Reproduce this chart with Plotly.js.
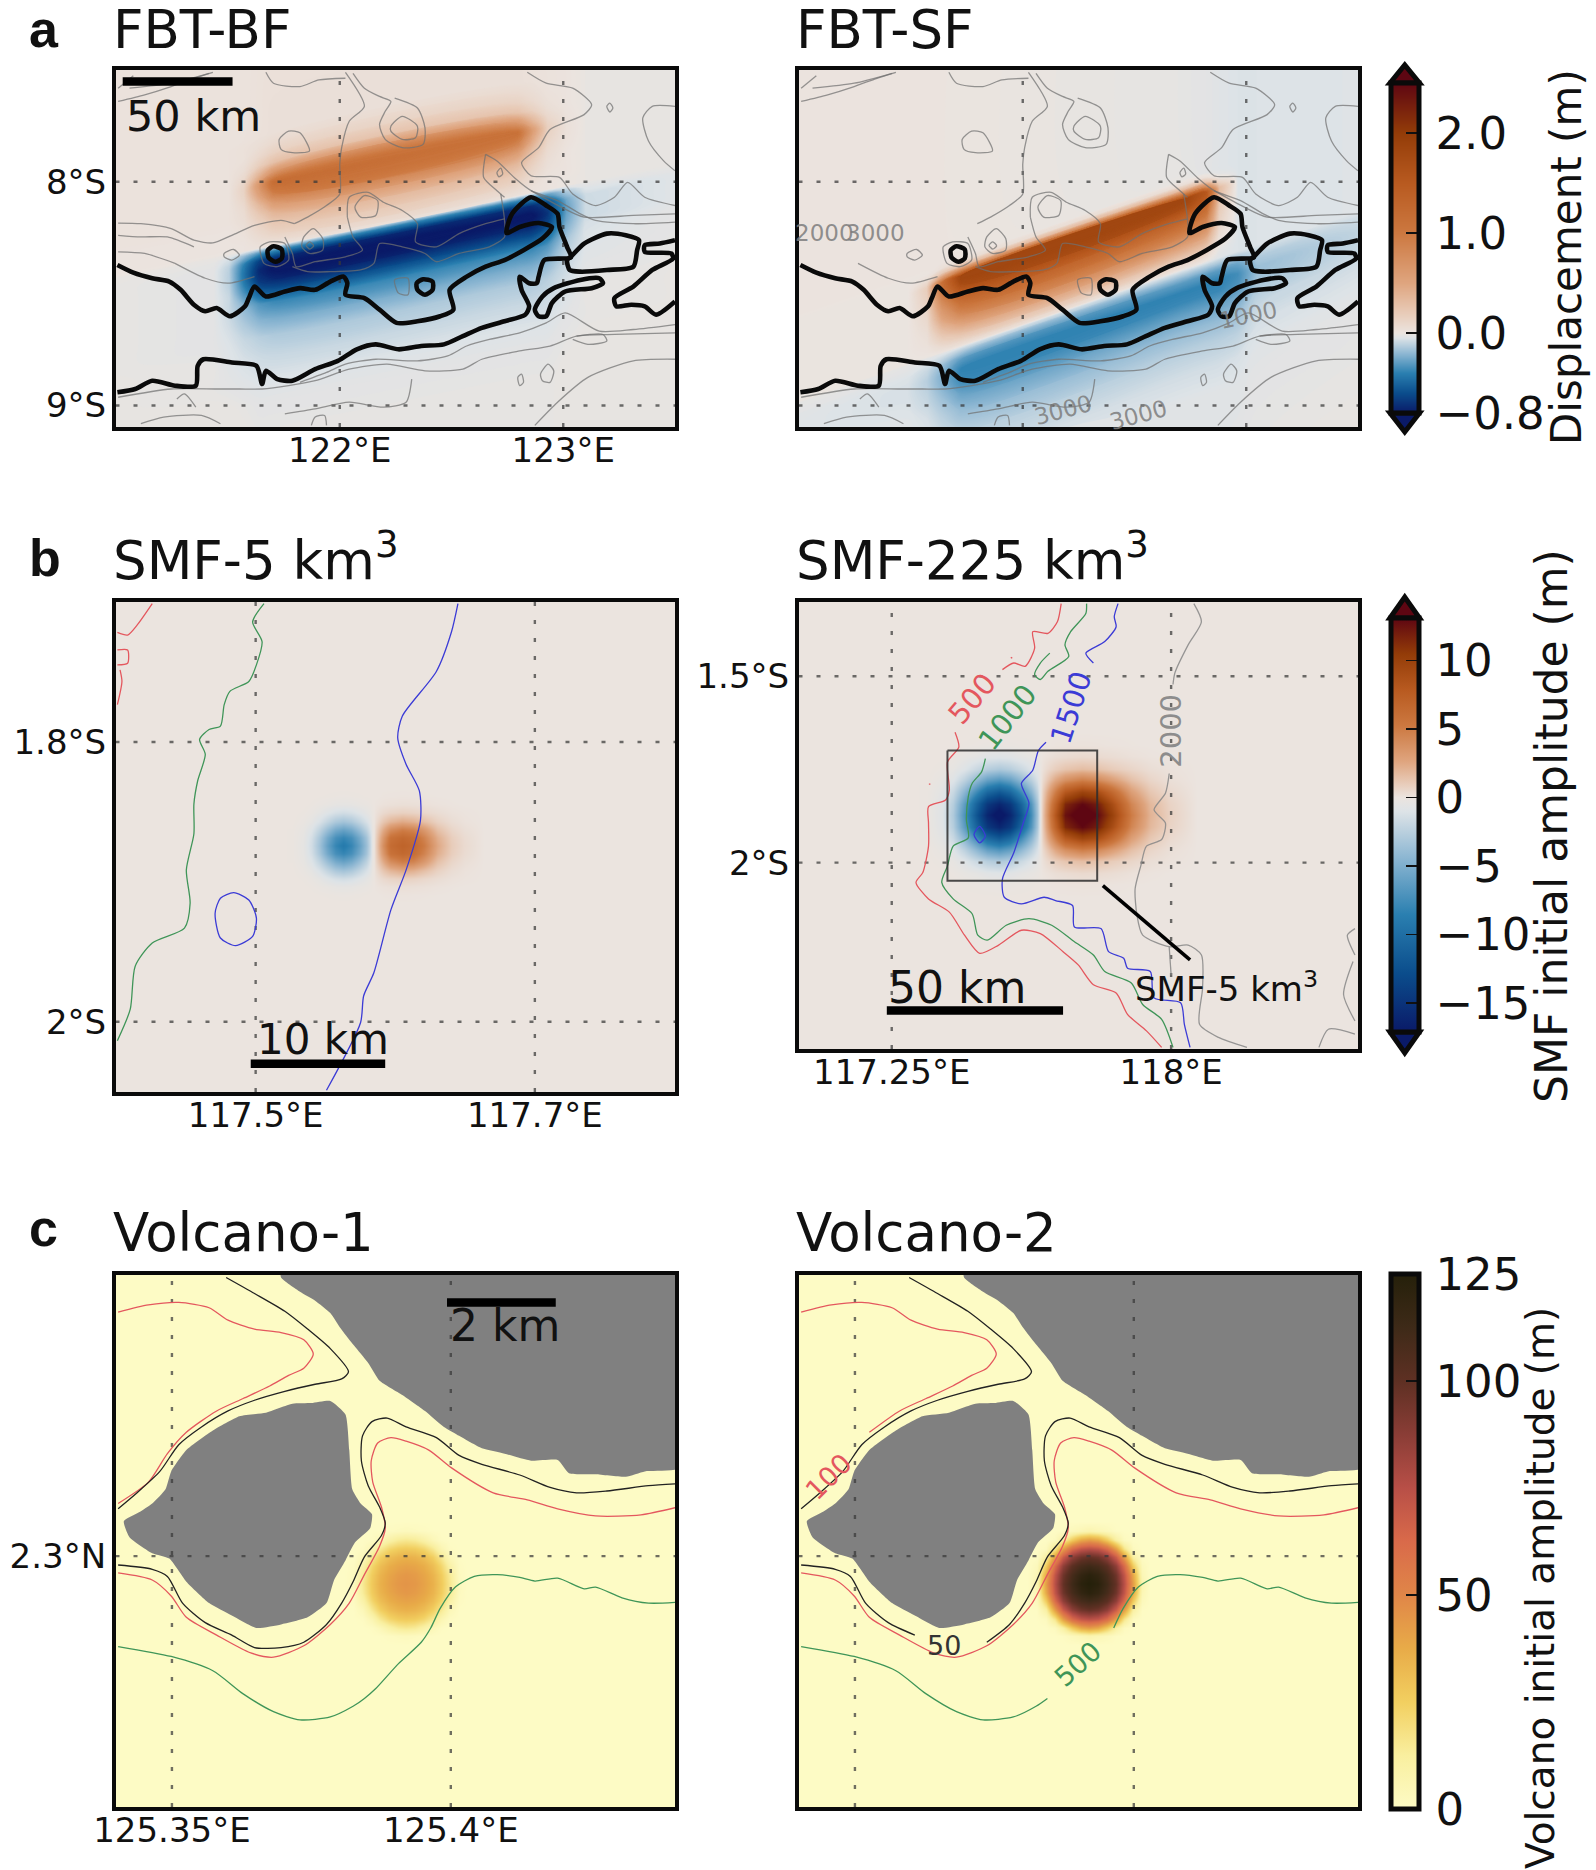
<!DOCTYPE html>
<html><head><meta charset="utf-8">
<script src="https://cdn.plot.ly/plotly-3.0.1.min.js"></script>
<style>html,body{margin:0;padding:0;background:#fff}</style></head>
<body><div id="chart" style="width:1596px;height:1870px"></div>
<script>
// ---------- digitised contours (units: digitising grid, converted to lon/lat by the calibrations below) ----------
const coastMain=[[38,645],[80,668],[130,685],[175,695],[205,720],[240,765],[270,785],[300,775],[335,800],[375,770],[385,745],[400,710],[430,740],[480,725],[520,715],[560,720],[600,695],[635,680],[645,700],[640,735],[690,745],[730,780],[775,820],[830,815],[890,800],[925,780],[915,720],[960,680],[1010,650],[1060,630],[1110,600],[1160,565],[1185,530],[1150,518],[1100,530],[1065,548],[1080,490],[1130,440],[1170,465],[1200,490],[1205,530],[1225,590],[1235,622],[1165,630],[1150,680],[1145,700],[1125,700],[1100,680],[1105,720],[1125,770],[1115,795],[1060,815],[1000,835],[950,860],[900,885],[840,890],[780,900],[720,885],[670,900],[620,935],[560,960],[500,995],[460,990],[430,965],[420,1005],[405,950],[340,940],[265,930],[250,950],[245,1010],[190,1010],[130,995],[85,1020],[38,1030]];
const coastIsleA=[[1235,620],[1270,580],[1330,550],[1380,555],[1415,570],[1410,600],[1400,650],[1330,660],[1260,665],[1232,660],[1225,630],[1235,620]];
const coastIsleB=[[1150,800],[1140,780],[1160,740],[1190,715],[1260,690],[1310,685],[1320,700],[1290,715],[1220,725],[1185,760],[1170,800],[1150,800]];
const coastEast=[[1510,570],[1470,580],[1430,585],[1430,605],[1500,610],[1505,625],[1450,660],[1400,710],[1350,745],[1355,770],[1395,765],[1430,770],[1460,795],[1510,755]];
const coastIsletC=[[435,600],[450,588],[472,598],[472,625],[455,635],[437,622],[435,600]];
const coastIsletD=[[828,700],[845,688],[870,695],[870,720],[850,735],[830,720],[828,700]];
const coastLines=[coastMain,coastIsleA,coastIsleB,coastEast,coastIsletC,coastIsletD];

const greyCommon=[
 [[40,150],[110,130],[180,105],[240,80],[290,62]],
 [[40,110],[80,72]],
 [[70,110],[180,95],[280,65]],
 [[430,62],[450,95],[520,105],[570,85],[640,80]],
 [[660,65],[690,110],[730,135],[760,150],[745,180],[730,220],[745,265],[790,290],[845,280],[850,230],[830,170],[770,140]],
 [[760,225],[790,195],[830,225],[825,260],[790,265],[760,240],[760,225]],
 [[465,265],[490,240],[520,245],[545,300],[500,305],[470,295],[465,265]],
 [[665,470],[690,435],[725,450],[720,495],[680,500],[665,470]],
 [[645,500],[650,440],[700,425],[740,455],[790,480],[830,520],[825,575],[880,590],[940,550],[1010,520],[1060,505]],
 [[645,500],[660,560],[685,600],[640,620],[560,635],[510,650],[500,610],[480,560]],
 [[500,650],[540,665],[600,665],[680,660],[715,640],[730,580],[790,590],[850,610],[880,635],[940,610],[1020,590],[1060,560],[1060,510],[1050,430]],
 [[1010,310],[1005,380],[1040,420],[1060,440]],
 [[1010,310],[1040,330],[1090,385],[1130,420],[1200,450],[1260,490],[1300,510],[1400,520],[1510,515]],
 [[1120,62],[1170,95],[1240,110],[1290,160],[1270,190],[1180,235],[1150,290],[1105,335],[1130,375],[1205,380],[1240,430],[1300,465],[1350,440],[1385,395],[1430,440],[1510,465]],
 [[1130,420],[1210,470],[1270,500],[1400,495],[1510,490]],
 [[1510,165],[1450,165],[1425,200],[1440,270],[1480,330],[1510,360]],
 [[1330,165],[1338,155],[1346,170],[1338,182],[1330,165]],
 [[1040,365],[1050,352],[1055,370],[1045,378],[1040,365]],
 [[1510,825],[1400,840],[1310,845],[1220,790],[1170,820],[1100,850],[1020,870],[960,890],[910,920],[830,935],[720,930],[640,945],[590,970],[520,1000]],
 [[1510,850],[1350,855],[1250,860],[1180,890],[1100,905],[1000,930],[950,960],[850,965],[750,945],[650,960],[560,995],[490,1010],[420,1020],[360,1020],[300,1020],[180,1020],[40,1045]],
 [[1510,930],[1400,935],[1280,985],[1200,1060],[1140,1130]],
 [[815,990],[800,1060],[740,1075],[650,1060],[560,1080],[480,1095]],
 [[1155,975],[1175,945],[1190,965],[1180,1000],[1160,995],[1155,975]],
 [[1095,985],[1105,975],[1110,1000],[1100,1010],[1095,985]],
 [[1250,860],[1320,855],[1330,875],[1280,885],[1240,870]],
 [[195,1050],[215,1035],[245,1075]],
 [[100,1125],[160,1105],[260,1100],[310,1125]],
 [[550,1130],[560,1105],[585,1100],[590,1130]],
 [[415,590],[440,575],[480,580],[490,630],[460,650],[425,640],[415,590]],
 [[530,560],[555,535],[580,565],[580,600],[545,610],[525,590],[530,560]],
 [[536,585],[546,575],[556,587],[546,597],[536,585]],
 [[320,610],[345,598],[360,615],[340,630],[320,620],[320,610]],
 [[770,690],[805,685],[805,735],[780,730],[770,690]]
];
const greyRidge=[[640,62],[690,165],[650,210],[630,290],[625,340],[625,430],[590,465],[540,500],[505,520]];
const greyRidgeWest=[[505,520],[470,510],[400,525],[340,555],[290,578],[240,570],[180,535],[100,520],[40,518]];
const greyWestA=[[40,555],[100,560],[170,560],[240,590]];
const greyWestB=[[40,605],[110,610],[190,640]];
const greyWestC=[[190,640],[270,685],[330,700],[400,680]];

const smf5Red=[[[130,35],[90,100],[65,130],[38,122]],[[38,175],[65,175],[65,215],[38,220]],[[45,235],[50,270],[38,340]]];
const smf5Green=[[425,35],[395,90],[420,150],[405,220],[385,270],[335,300],[320,340],[310,405],[280,415],[255,445],[270,490],[250,570],[240,640],[240,730],[220,840],[230,940],[215,1015],[130,1060],[85,1130],[72,1260],[38,1355]];
const smf5Blue=[[[937,35],[920,120],[880,240],[790,375],[778,440],[800,520],[835,600],[838,690],[800,840],[760,960],[715,1150],[688,1220],[680,1300],[590,1505]],[[296,970],[310,925],[345,908],[385,930],[405,985],[395,1040],[350,1068],[310,1045],[296,970]]];

const smf225Red=[[[735,35],[725,90],[700,125],[660,120],[665,170],[640,225],[610,215],[580,235]],[[455,425],[465,470],[435,515],[440,600],[430,630],[385,650],[385,700],[385,770],[370,850],[352,880],[385,930],[440,970],[480,1040],[520,1095],[570,1070],[630,1025],[680,1035],[740,1090],[780,1130],[820,1190],[880,1215],[910,1280],[960,1330],[1000,1380]],[[386,582],[390,582]],[[602,198],[606,200]]];
const smf225Green=[[[802,35],[800,65],[760,120],[745,160],[755,195],[700,240],[680,265],[665,250],[680,215],[705,185]],[[535,505],[525,545],[500,580],[490,620],[485,690],[490,745],[450,770],[435,830],[420,880],[450,930],[500,975],[515,1040],[540,1055],[590,1010],[650,990],[710,1010],[770,1060],[820,1100],[850,1150],[920,1185],[950,1250],[1000,1295],[1030,1380]]];
const smf225Blue=[[[885,35],[875,75],[880,105],[850,150],[800,185],[820,215]],[[695,455],[675,480],[660,540],[630,580],[650,640],[635,700],[610,790],[580,870],[585,925],[630,945],[690,925],[720,935],[765,950],[770,1015],[840,1020],[860,1090],[900,1110],[910,1140],[970,1150],[980,1230],[1050,1245],[1060,1310],[1075,1380]],[[505,735],[520,710],[535,740],[520,760],[505,735]]];
const smf225Grey=[[[1085,35],[1105,90],[1070,160],[1035,245],[1030,280]],[[1020,550],[1010,610],[980,660],[1010,700],[1000,750],[960,770],[945,830],[930,900],[935,980],[950,1040],[1020,1075],[1070,1070],[1105,1100],[1108,1200],[1100,1310],[1150,1350],[1225,1380]],[[1020,1075],[1025,1160]],[[1510,1020],[1490,1040],[1510,1100]],[[1505,1120],[1480,1220],[1510,1300]],[[1415,1380],[1440,1325],[1510,1340]]];

const landNorth=[[470,20],[470,45],[520,85],[560,110],[600,145],[625,185],[650,220],[700,285],[730,335],[790,375],[850,420],[900,465],[940,490],[1000,525],[1060,540],[1130,560],[1200,558],[1230,595],[1300,598],[1380,605],[1430,590],[1530,578],[1530,20],[470,20]];
const landIsland=[[55,730],[95,705],[130,680],[165,640],[180,590],[220,530],[290,475],[360,435],[430,425],[500,400],[550,398],[600,392],[640,430],[650,530],[658,640],[680,680],[710,710],[705,750],[665,790],[640,840],[610,895],[590,960],[540,1000],[470,1020],[405,1030],[340,995],[280,960],[220,900],[175,835],[130,820],[70,775],[55,730]];
const depth50A=[[325,45],[400,90],[480,140],[540,190],[600,245],[648,310],[630,330],[560,345],[480,365],[400,390],[330,420],[260,465],[200,515],[150,590],[90,650],[40,695]];
const depth50B=[[1510,625],[1440,630],[1330,645],[1250,650],[1180,635],[1100,600],[1000,570],[940,545],[880,495],[800,465],[750,440],[710,450],[685,490],[682,560],[700,630],[730,690],[745,735],[735,770],[690,830],[660,900],[630,960],[590,1020],[530,1070],[470,1085],[400,1085],[340,1050],[270,1015],[210,960],[170,885],[130,865],[40,853]];
const depth100A=[[40,142],[120,122],[200,115],[280,130],[330,165],[400,190],[470,200],[530,220],[555,260],[530,300],[490,320],[440,350],[370,385],[300,420],[220,480],[170,540],[120,620],[40,680]];
const depth100B=[[1510,692],[1420,712],[1300,715],[1200,695],[1120,670],[1030,650],[920,580],[860,530],[800,505],[760,495],[725,510],[708,560],[712,620],[735,690],[745,750],[730,800],[690,880],[650,960],[600,1020],[530,1080],[450,1112],[390,1100],[300,1050],[220,1000],[180,940],[130,895],[40,875]];
const depth500=[[1510,958],[1440,960],[1370,945],[1300,915],[1270,920],[1200,890],[1140,898],[1100,888],[1040,880],[980,885],[930,915],[890,975],[865,1030],[840,1070],[780,1130],[720,1200],[690,1228],[660,1250],[600,1280],[520,1288],[450,1265],[370,1215],[290,1150],[180,1110],[40,1082]];

// ---------- calibrations digitising grid -> lon/lat ----------
const calA={lon:122,x:625,kx:590,lat:-8,y:393,ky:677};
const calAfield={lon:122,x:632,kx:590,lat:-8,y:393,ky:677};
const calB1={lon:117.5,x:403,kx:3685,lat:-1.8,y:453,ky:4225};
const calB2={lon:117.25,x:288,kx:982.7,lat:-1.5,y:255,ky:1130};
const calC={lon:125.35,x:182,kx:14720,lat:2.3,y:828,ky:15775};

// ---------- FBT fields, read across and along strike ----------
const bfStrike=[-100,300,340,380,420,460,1100,1140,1180,1230,1280,1700];
const bfAcross=[-800,-340,-310,-280,-250,-220,-190,-160,-130,-100,-70,-40,-15,-2,2,15,40,70,100,130,170,220,270,330,400,470,550,1200];
const bfZ=[
[.02,.02,.02,.02,.02,.02,.01,.01,0,0,-.01,-.01],
[.02,.02,.02,.02,.03,.04,.04,.03,.02,.01,-.01,-.01],
[.02,.02,.02,.03,.05,.08,.08,.05,.02,.01,-.01,-.01],
[.02,.02,.02,.03,.09,.15,.14,.08,.03,.01,-.01,-.01],
[.02,.02,.02,.05,.17,.29,.27,.15,.05,.01,-.01,-.01],
[.02,.02,.02,.09,.38,.68,.64,.34,.10,.02,-.01,-.01],
[.02,.02,.02,.14,.65,1.17,1.1,.58,.16,.03,-.01,-.01],
[.02,.02,.02,.12,.53,.95,.89,.47,.13,.03,-.01,-.01],
[.02,.02,.02,.08,.34,.61,.58,.31,.09,.02,-.01,-.01],
[.02,.02,.02,.06,.21,.38,.36,.19,.06,.01,-.01,-.01],
[.01,.01,.01,.04,.13,.23,.22,.12,.04,.01,-.01,-.01],
[.01,.01,.01,.02,.08,.14,.13,.07,.02,.01,-.01,-.01],
[.01,.01,.01,.01,.04,.06,.06,.03,.01,0,-.01,-.01],
[0,0,0,.01,.02,.03,.03,.02,.01,0,-.01,-.01],
[-.01,-.01,-.01,-.03,-.05,-.05,-.05,-.05,-.05,-.03,-.02,-.01],
[-.01,-.02,-.06,-.19,-.32,-.35,-.35,-.35,-.3,-.13,-.04,-.01],
[-.01,-.03,-.11,-.4,-.65,-.72,-.72,-.72,-.61,-.25,-.08,-.01],
[-.01,-.03,-.12,-.45,-.74,-.82,-.82,-.82,-.7,-.29,-.08,-.01],
[-.01,-.03,-.11,-.41,-.68,-.75,-.75,-.75,-.64,-.26,-.08,-.01],
[-.01,-.03,-.09,-.33,-.54,-.6,-.6,-.6,-.51,-.21,-.06,-.01],
[-.01,-.03,-.09,-.2,-.32,-.37,-.37,-.37,-.32,-.14,-.05,-.01],
[-.01,-.03,-.07,-.14,-.21,-.24,-.24,-.24,-.2,-.1,-.04,-.01],
[-.01,-.03,-.05,-.09,-.12,-.14,-.14,-.14,-.12,-.07,-.03,-.01],
[-.01,-.02,-.04,-.06,-.08,-.09,-.09,-.09,-.08,-.05,-.02,-.01],
[-.01,-.02,-.03,-.04,-.05,-.05,-.05,-.05,-.05,-.03,-.02,-.01],
[-.01,-.01,-.01,-.02,-.03,-.03,-.03,-.03,-.03,-.02,-.01,-.01],
[-.01,-.01,-.01,-.01,-.02,-.02,-.02,-.02,-.02,-.01,-.01,-.01],
[-.01,-.01,-.01,-.01,-.01,-.01,-.01,-.01,-.01,-.01,-.01,-.01]];
const sfStrike=[-100,330,380,420,470,1060,1115,1150,1200,1250,1700];
const sfAcross=[-1200,-300,-270,-255,-240,-225,-210,-190,-160,-130,-100,-70,-40,-15,-2,2,15,40,70,100,140,190,250,320,400,1000];
const sfZ=[
[.01,.01,.01,.01,0,-.02,-.03,-.04,-.05,-.05,-.04],
[.01,.01,.01,.01,0,-.02,-.03,-.04,-.05,-.05,-.04],
[.01,.01,.01,.01,.01,-.01,-.03,-.04,-.05,-.05,-.04],
[0,0,0,.04,.06,.05,.03,-.03,-.05,-.05,-.04],
[0,0,.03,.2,.33,.32,.26,.02,-.05,-.05,-.04],
[0,0,.1,.6,.98,.97,.81,.15,-.05,-.05,-.04],
[0,0,.18,1.1,1.83,1.82,1.53,.32,-.05,-.05,-.04],
[0,0,.17,1.04,1.73,1.72,1.45,.3,-.05,-.05,-.04],
[0,0,.14,.83,1.38,1.37,1.15,.23,-.05,-.05,-.04],
[0,0,.11,.65,1.08,1.07,.9,.17,-.05,-.05,-.04],
[0,0,.08,.5,.83,.82,.69,.12,-.05,-.05,-.04],
[0,0,.05,.32,.53,.52,.43,.06,-.05,-.05,-.04],
[0,0,.03,.17,.28,.27,.22,.01,-.05,-.05,-.04],
[0,0,.01,.06,.1,.09,.06,-.03,-.05,-.05,-.04],
[0,0,0,.01,.02,.01,0,-.04,-.05,-.05,-.04],
[-.02,-.02,-.03,-.03,-.04,-.04,-.04,-.05,-.05,-.05,-.04],
[-.02,-.03,-.05,-.08,-.13,-.13,-.13,-.13,-.12,-.08,-.04],
[-.03,-.05,-.09,-.18,-.3,-.3,-.3,-.3,-.27,-.14,-.05],
[-.03,-.06,-.12,-.23,-.39,-.39,-.39,-.39,-.35,-.18,-.05],
[-.03,-.06,-.11,-.22,-.37,-.37,-.37,-.37,-.33,-.17,-.05],
[-.03,-.05,-.09,-.17,-.28,-.28,-.28,-.28,-.25,-.13,-.05],
[-.03,-.04,-.06,-.12,-.19,-.19,-.19,-.19,-.17,-.09,-.04],
[-.03,-.03,-.05,-.08,-.12,-.12,-.12,-.12,-.11,-.06,-.03],
[-.03,-.03,-.04,-.05,-.07,-.07,-.07,-.07,-.06,-.04,-.02],
[-.03,-.03,-.03,-.04,-.04,-.04,-.04,-.04,-.04,-.03,-.02],
[-.04,-.04,-.04,-.04,-.03,-.03,-.02,-.02,-.01,0,.01]];
const bfFront={x:395,y:600,slope:-0.233};
const sfFront={x:470,y:890,slope:-0.395};

// ---------- SMF dipole, metres, half table by distance from the trough axis ----------
const smfDx=[-190,-150,-120,-90,-60,-30,0,30,60,85,100,108,113,118,125,150,175,220,260,300,350,400,450,520];
const smfDy=[0,35,70,105,140,175,210,250];
const smfZ=[
[-.1,-.9,-3,-7,-12,-16,-18,-16,-12,-7.5,-3.5,-.6,.3,1.5,3,8,12.5,14,13,10,5,2,.8,0],
[-.1,-.8,-2.7,-6.3,-10.8,-14.5,-16,-14.5,-10.8,-6.8,-3.2,-.5,.3,1.3,2.7,7,11.5,13,12,9,4.4,1.8,.7,0],
[-.08,-.6,-1.9,-4.4,-7.6,-10.5,-11.8,-10.5,-7.6,-4.6,-2.2,-.4,.2,1,2,4.9,8,9.8,9,6.5,3,1.2,.45,0],
[0,-.3,-.9,-2.3,-4.2,-6,-6.8,-6,-4.2,-2.5,-1.2,-.2,.1,.5,1,2.5,3.8,4.8,4.2,3,1.5,.6,.2,0],
[0,-.1,-.35,-.9,-1.8,-2.6,-3,-2.6,-1.8,-1,-.5,-.1,.05,.2,.4,.9,1.3,1.6,1.4,1,.6,.25,.1,0],
[0,0,-.1,-.3,-.5,-.8,-.9,-.8,-.5,-.3,-.15,0,0,.05,.1,.25,.35,.45,.4,.3,.15,.05,0,0],
[0,0,0,-.05,-.1,-.15,-.2,-.15,-.1,-.05,-.02,0,0,0,0,.05,.07,.1,.08,.05,.02,0,0,0],
[0,0,0,0,0,0,0,0,0,0,0,0,0,0,0,0,0,0,0,0,0,0,0,0]];
const smfSmall={lon:117.563,lat:-1.874,shrink:5.3,amp:0.5};
const smfLarge={lon:117.537,lat:-1.872,shrink:1,amp:1};

// ---------- volcano dome, metres, one quadrant ----------
const volR=[0,23,46,69,92,115,138,161];
const volZ=[
[125,122,112,98,75,42,7,0],
[122,118,109,95,72,38,5,0],
[112,109,101,86,62,26,3,0],
[98,95,86,68,42,11,.5,0],
[75,72,62,42,17,2,0,0],
[42,38,26,11,2,0,0,0],
[7,5,3,.5,0,0,0,0],
[0,0,0,0,0,0,0,0]];
const vol1Amp=0.36, vol2Amp=1, volLon=125.392, volLat=2.29512;

// ---------- colours and ticks ----------
const bwrNeg=[[-1,'#0a1a68'],[-.75,'#0b4d8c'],[-.5,'#2a7fb0'],[-.25,'#8fb8d3'],[-.06,'#dde3e7'],[0,'#ebe4df']];
const bwrPos=[[.08,'#e8cbb8'],[.2,'#dfa57f'],[.4,'#cc7840'],[.6,'#b85a20'],[.8,'#933c08'],[1,'#5e0612']];
const volColors=[[0,'#fdfbc5'],[.1,'#f9ef9f'],[.2,'#f2cf60'],[.3,'#e8ab48'],[.4,'#e08648'],[.5,'#d96a4a'],[.6,'#b84f47'],[.7,'#8a3d36'],[.8,'#5e3023'],[.9,'#3e2a18'],[1,'#25200a']];
const dispRange=[-.8,2.5], smfRange=[-17.1,13.1], volRange=[0,125];
const dispTicks=[-.8,0,1,2], dispLabels=['\u200a\u22120.8','\u200a0.0','\u200a1.0','\u200a2.0'];
const smfTicks=[-15,-10,-5,0,5,10], smfLabels=['\u200a\u221215','\u200a\u221210','\u200a\u22125','\u200a0','\u200a5','\u200a10'];
const volTicks=[0,50,100,125], volLabels=['\u200a0','\u200a50','\u200a100','\u200a125'];

// ---------- helpers ----------
const W=1596,H=1870,FONT='DejaVu Sans, Verdana, sans-serif';
const ZERO='#ebe4df', GRID='rgba(55,55,55,0.72)', GREY='rgba(112,112,112,0.72)', RED='#e4575e', GREEN='#3f9558', BLUE='#3b3bd6';
const lon=(c,v)=>c.lon+(v-c.x)/c.kx, lat=(c,v)=>c.lat-(v-c.y)/c.ky;
function scale(range){const lo=range[0],hi=range[1],t=v=>(v-lo)/(hi-lo),o=[];
  bwrNeg.forEach(p=>o.push([t(p[0]*-lo),p[1]]));bwrPos.forEach(p=>o.push([t(p[0]*hi),p[1]]));return o;}
const traces=[],annotations=[],shapes=[];
function polyline(sp,cal,pts,color,width,smooth){
  traces.push({type:'scatter',mode:'lines',xaxis:'x'+sp,yaxis:'y'+sp,hoverinfo:'skip',showlegend:false,
    x:pts.map(p=>p[0]===null?null:lon(cal,p[0])),y:pts.map(p=>p[1]===null?null:lat(cal,p[1])),
    line:{color:color,width:width,shape:smooth===false?'linear':'spline',smoothing:.7}});}
function gridLines(sp,xv,yv,xr,yr){
  xv.forEach(v=>traces.push({type:'scatter',mode:'lines',xaxis:'x'+sp,yaxis:'y'+sp,hoverinfo:'skip',showlegend:false,x:[v,v],y:yr,line:{color:GRID,width:2.4,dash:'4px,14px'}}));
  yv.forEach(v=>traces.push({type:'scatter',mode:'lines',xaxis:'x'+sp,yaxis:'y'+sp,hoverinfo:'skip',showlegend:false,x:xr,y:[v,v],line:{color:GRID,width:2.4,dash:'4px,14px'}}));}
function label(sp,cal,txt,zx,zy,size,color,rot){annotations.push({xref:'x'+sp,yref:'y'+sp,x:lon(cal,zx),y:lat(cal,zy),text:txt,showarrow:false,
  font:{family:FONT,size:size,color:color},textangle:rot||0,xanchor:'center',yanchor:'middle'});}
function paperText(px,py,txt,size,opt){annotations.push(Object.assign({xref:'paper',yref:'paper',x:px/W,y:1-py/H,text:txt,showarrow:false,
  font:{family:FONT,size:size,color:'#111'},xanchor:'left',yanchor:'middle'},opt||{}));}
function gapped(pts,i,j){return pts.slice(0,i).concat([[null,null]],pts.slice(j+1));}
function mirrorRows(t){return t.slice(1).reverse().concat(t);}
function mirrorCols(r){return r.slice(1).reverse().concat(r);}
function colorbar(x0,top,bottom,ticks,labels){return {x:x0/W,xanchor:'left',xpad:0,y:1-bottom/H,yanchor:'bottom',ypad:0,yref:'paper',xref:'paper',
  thickness:28,thicknessmode:'pixels',len:(bottom-top)/H,lenmode:'fraction',outlinewidth:5,outlinecolor:'#0a0a0a',borderwidth:0,
  tickmode:'array',tickvals:ticks,ticktext:labels,ticks:'inside',ticklen:15,tickwidth:1.6,tickcolor:'#111',
  tickfont:{family:FONT,size:45,color:'#111'}};}
function arrow(x0,x1,sh,tip,color){const px=v=>(v/W).toFixed(5),py=v=>(1-v/H).toFixed(5),m=(x0+x1)/2;
  shapes.push({type:'path',xref:'paper',yref:'paper',path:`M ${px(x0)} ${py(sh)} L ${px(m)} ${py(tip)} L ${px(x1)} ${py(sh)} Z`,fillcolor:color,line:{color:'#0a0a0a',width:5}});}

// ---------- axes ----------
const layout={width:W,height:H,paper_bgcolor:'#fff',plot_bgcolor:ZERO,showlegend:false,hovermode:false,
  margin:{l:0,r:0,t:0,b:0,pad:0,autoexpand:false},annotations:annotations,shapes:shapes};
function axes(sp,box,xr,yr,xv,xl,yv,yl,bg){
  const common={showgrid:false,zeroline:false,showline:true,mirror:true,linewidth:3.6,linecolor:'#0a0a0a',ticks:'',automargin:false,
    tickfont:{family:FONT,size:34,color:'#111'},tickmode:'array',layer:'above traces'};
  layout['xaxis'+sp]=Object.assign({},common,{anchor:'y'+sp,domain:[box[0]/W,box[1]/W],range:xr,tickvals:xv,ticktext:xl,showticklabels:xl.length>0,ticklabelstandoff:-9});
  layout['yaxis'+sp]=Object.assign({},common,{anchor:'x'+sp,domain:[1-box[3]/H,1-box[2]/H],range:yr,tickvals:yv,ticktext:yl,showticklabels:yl.length>0,ticklabelstandoff:-1});
  if(bg)shapes.push({type:'rect',xref:'x'+sp+' domain',yref:'y'+sp+' domain',x0:0,x1:1,y0:0,y1:1,fillcolor:bg,line:{width:0},layer:'below'});
}
const aX=[120.9966,123.5],aY=[-9.096,-7.5007];
axes(1,[115.5,675,70,427],aX,aY,[122,123],['122°E','123°E'],[-9,-8],['9°S','8°S']);
axes(2,[798.5,1358,70,427],aX,aY,[122,123],[],[-9,-8],[]);
axes(3,[115.5,675,602,1092],[117.3996,117.8004],[-2.0502,-1.6999],[117.5,117.7],['117.5°E','117.7°E'],[-2,-1.8],['2°S','1.8°S']);
axes(4,[798.5,1358,602,1049],[116.9997,118.5017],[-2.5,-1.3009],[117.25,118],['117.25°E','118°E'],[-2,-1.5],['2°S','1.5°S']);
const cX=[125.33988,125.4402],cY=[2.25531,2.35008];
axes(5,[115.5,675,1275,1807],cX,cY,[125.35,125.4],['125.35°E','125.4°E'],[2.3],['2.3°N'],'#fdfbc5');
axes(6,[798.5,1358,1275,1807],cX,cY,[125.35,125.4],[],[2.3],[],'#fdfbc5');

// ---------- FBT panels ----------
function faultField(sp,id,strike,across,z,front,showBar){
  const xs=across.map(()=>strike.map(a=>lon(calAfield,a)));
  const ys=across.map(b=>strike.map(a=>lat(calAfield,front.y+front.slope*(a-front.x)+b)));
  const off={startline:false,endline:false,showgrid:false,showticklabels:'none',tickmode:'array',tickvals:[],smoothing:0,minorgridcount:0};
  traces.push({type:'carpet',carpet:id,xaxis:'x'+sp,yaxis:'y'+sp,a:strike,b:across,x:xs,y:ys,aaxis:off,baxis:off,hoverinfo:'skip'});
  const t={type:'contourcarpet',carpet:id,a:strike,b:across,z:z,autocontour:false,zauto:false,zmin:dispRange[0],zmax:dispRange[1],
    contours:{start:-.83,end:2.5,size:.005,coloring:'fill',showlines:false},line:{width:0},colorscale:scale(dispRange),showscale:!!showBar};
  if(showBar)t.colorbar=colorbar(1390.5,83,413,dispTicks,dispLabels);
  traces.push(t);
}
faultField(1,'bf',bfStrike,bfAcross,bfZ,bfFront,true);
faultField(2,'sf',sfStrike,sfAcross,sfZ,sfFront,false);
gridLines(1,[122,123],[-9,-8],aX,aY);
gridLines(2,[122,123],[-9,-8],aX,aY);
greyCommon.forEach(l=>{polyline(1,calA,l,GREY,1.3);polyline(2,calA,l,GREY,1.3);});
polyline(2,calA,greyRidge,GREY,1.3);polyline(1,calA,greyRidge,GREY,1.3);
[greyRidgeWest,greyWestA,greyWestB,greyWestC].forEach(l=>polyline(1,calA,l,GREY,1.3));
polyline(2,calA,greyWestC,GREY,1.3);
coastLines.forEach(l=>{polyline(1,calA,l,'#0a0a0a',4.6);polyline(2,calA,l,'#0a0a0a',4.6);});
polyline(1,calA,[[52,90],[342,90]],'#000',8.5,false);
label(1,calA,'50 km',240,195,43,'#111');
[['2000',102,549,0],['3000',235,547,0],['1000',1222,795,-12],['3000',732,1085,-15],['3000',930,1098,-15]].forEach(l=>label(2,calA,l[0],l[1],l[2],23,'rgba(125,125,125,0.85)',l[3]));

// ---------- SMF panels ----------
function smfField(sp,g,showBar){
  const x=smfDx.map(d=>g.lon+d/calB2.kx/g.shrink);
  const ys=smfDy.slice(1).reverse().map(d=>g.lat-d/calB2.ky/g.shrink).concat(smfDy.map(d=>g.lat+d/calB2.ky/g.shrink));
  const z=mirrorRows(smfZ).map(r=>r.map(v=>v*g.amp));
  const t={type:'heatmap',xaxis:'x'+sp,yaxis:'y'+sp,x:x,y:ys,z:z,zsmooth:'best',zauto:false,zmin:smfRange[0],zmax:smfRange[1],colorscale:scale(smfRange),showscale:!!showBar,hoverinfo:'skip'};
  if(showBar)t.colorbar=colorbar(1390.5,618,1032,smfTicks,smfLabels);
  traces.push(t);
}
smfField(3,smfSmall,false);smfField(4,smfLarge,true);
gridLines(3,[117.5,117.7],[-2,-1.8],layout.xaxis3.range,layout.yaxis3.range);
gridLines(4,[117.25,118],[-2,-1.5],layout.xaxis4.range,layout.yaxis4.range);
smf5Red.forEach(l=>polyline(3,calB1,l,RED,1.3));
polyline(3,calB1,smf5Green,GREEN,1.3);
smf5Blue.forEach(l=>polyline(3,calB1,l,BLUE,1.3));
polyline(3,calB1,[[390,1425],[745,1425]],'#000',8.5,false);
label(3,calB1,'10 km',580,1350,42,'#111');
smf225Grey.forEach(l=>polyline(4,calB2,l,'rgba(135,135,135,0.85)',1.3));
smf225Red.forEach(l=>polyline(4,calB2,l,RED,1.3));
smf225Green.forEach(l=>polyline(4,calB2,l,GREEN,1.3));
smf225Blue.forEach(l=>polyline(4,calB2,l,BLUE,1.3));
polyline(4,calB2,[[435,480],[830,480],[830,875],[435,875],[435,480]],'rgba(45,45,45,0.85)',2,false);
polyline(4,calB2,[[845,890],[1075,1115]],'#000',3.6,false);
polyline(4,calB2,[[275,1268],[740,1268]],'#000',8.5,false);
label(4,calB2,'50 km',460,1200,44,'#111');
label(4,calB2,'SMF-5 km<sup>3</sup>',1170,1198,34,'#111');
label(4,calB2,'500',500,325,29,RED,-50);
label(4,calB2,'1000',595,380,29,GREEN,-52);
label(4,calB2,'1500',760,350,29,BLUE,-72);
label(4,calB2,'2000',1025,420,29,'rgba(135,135,135,0.95)',-90);

// ---------- volcano panels ----------
function volField(sp,amp,showBar){
  const offs=volR.slice(1).reverse().map(d=>-d).concat(volR);
  const t={type:'heatmap',xaxis:'x'+sp,yaxis:'y'+sp,x:offs.map(d=>volLon+d/calC.kx),y:offs.map(d=>volLat+d/calC.kx),
    z:mirrorRows(volZ).map(r=>mirrorCols(r).map(v=>v*amp)),zsmooth:'best',zauto:false,zmin:volRange[0],zmax:volRange[1],colorscale:volColors,showscale:!!showBar,hoverinfo:'skip'};
  if(showBar)t.colorbar=colorbar(1390.5,1274,1809,volTicks,volLabels);
  traces.push(t);
}
volField(5,vol1Amp,false);volField(6,vol2Amp,true);
[5,6].forEach(sp=>{
  [landNorth,landIsland].forEach(l=>traces.push({type:'scatter',mode:'lines',fill:'toself',fillcolor:'#808080',xaxis:'x'+sp,yaxis:'y'+sp,hoverinfo:'skip',showlegend:false,
    x:l.map(p=>lon(calC,p[0])),y:l.map(p=>lat(calC,p[1])),line:{width:0,color:'#808080',shape:'spline',smoothing:.5}}));
  gridLines(sp,[125.35,125.4],[2.3],cX,cY);
});
polyline(5,calC,depth100A,RED,1.3);polyline(5,calC,depth100B,RED,1.3);
polyline(5,calC,depth50A,'#222',1.3);polyline(5,calC,depth50B,'#222',1.3);polyline(5,calC,depth500,GREEN,1.3);
polyline(6,calC,gapped(depth100A,15,16),RED,1.3);polyline(6,calC,depth100B,RED,1.3);
polyline(6,calC,depth50A,'#222',1.3);polyline(6,calC,gapped(depth50B,23,24),'#222',1.3);polyline(6,calC,gapped(depth500,13,15),GREEN,1.3);
polyline(5,calC,[[908,115],[1195,115]],'#000',8.5,false);
label(5,calC,'2 km',1060,180,44,'#111');
label(6,calC,'100',113,605,27,RED,-45);
label(6,calC,'50',417,1080,27,'#333');
label(6,calC,'500',772,1130,27,GREEN,-42);

// ---------- titles ----------
paperText(111,30,'FBT-BF',53);paperText(794,30,'FBT-SF',53);
paperText(111,557,'SMF-5 km<sup>3</sup>',53);paperText(794,557,'SMF-225 km<sup>3</sup>',53);
paperText(111,1232,'Volcano-1',53);paperText(794,1232,'Volcano-2',53);
[['a',27,29],['b',27,558],['c',27,1228]].forEach(t=>paperText(t[1],t[2],t[0],52,{font:{family:'Liberation Sans, Arial, sans-serif',size:52,color:'#111',weight:700}}));
paperText(1566,257,'Displacement (m)',42,{textangle:-90,xanchor:'center'});
paperText(1552,826,'SMF initial amplitude (m)',44,{textangle:-90,xanchor:'center'});
paperText(1540,1588,'Volcano initial amplitude (m)',39,{textangle:-90,xanchor:'center'});

// ---------- colour-bar end arrows ----------
arrow(1390,1419.5,83,65,'#5e0612');arrow(1390,1419.5,413,432,'#0a1a68');
arrow(1390,1419.5,618,597,'#5e0612');arrow(1390,1419.5,1032,1053,'#0a1a68');

Plotly.newPlot('chart',traces,layout,{staticPlot:true,displayModeBar:false});
</script></body></html>
